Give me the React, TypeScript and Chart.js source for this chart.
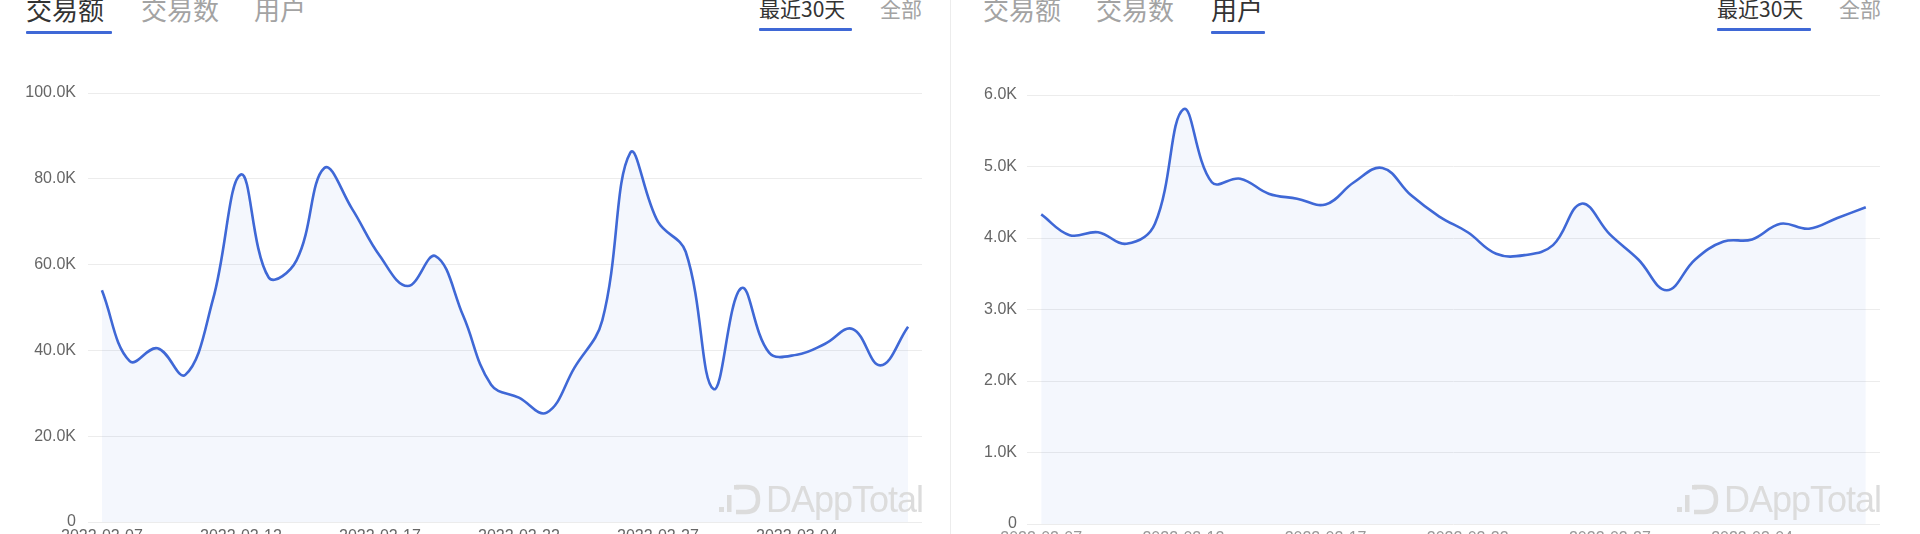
import React, { useEffect, useRef } from "react";
import { Chart, registerables } from "chart.js";

Chart.register(...registerables);

// ---------- data ----------
const dates = [
  "2022-02-07", "2022-02-08", "2022-02-09", "2022-02-10", "2022-02-11",
  "2022-02-12", "2022-02-13", "2022-02-14", "2022-02-15", "2022-02-16",
  "2022-02-17", "2022-02-18", "2022-02-19", "2022-02-20", "2022-02-21",
  "2022-02-22", "2022-02-23", "2022-02-24", "2022-02-25", "2022-02-26",
  "2022-02-27", "2022-02-28", "2022-03-01", "2022-03-02", "2022-03-03",
  "2022-03-04", "2022-03-05", "2022-03-06", "2022-03-07", "2022-03-08",
];

// 交易额 (USD)
const volumeValues = [
  54000, 37500, 40500, 34300, 52000, 81000, 57000, 61000, 82500, 73000,
  62000, 55000, 62000, 48000, 32000, 29000, 25500, 36000, 47000, 86000,
  70000, 63000, 31000, 54500, 39500, 39000, 41500, 45000, 36500, 45500,
];

// 用户
const userValues = [
  4330, 4040, 4080, 3920, 4200, 5800, 4780, 4830, 4620, 4550,
  4470, 4780, 4980, 4600, 4300, 4080, 3780, 3760, 3900, 4480,
  4050, 3700, 3270, 3700, 3950, 3980, 4200, 4130, 4280, 4430,
];

const volumeTicks = [0, 20000, 40000, 60000, 80000, 100000];
const userTicks = [0, 1000, 2000, 3000, 4000, 5000, 6000];

const tabs = ["交易额", "交易数", "用户"];
const ranges = ["最近30天", "全部"];

const LINE = "#3f68d6";
const FONT = "'Liberation Sans', Arial, Helvetica, sans-serif";
const CJK = "'Noto Sans CJK SC', 'Noto Sans', sans-serif";

type ChartProps = {
  left: number;
  top: number;
  width: number;
  height: number;
  labels: string[];
  values: number[];
  ticks: number[];
  yWidth: number;
  yPad: number;
  padTop: number;
  padRight: number;
  xHeight: number;
  xColor: string;
};

function LineChart(p: ChartProps) {
  const ref = useRef<HTMLCanvasElement | null>(null);
  useEffect(() => {
    if (!ref.current) return;
    const max = p.ticks[p.ticks.length - 1];
    const step = p.ticks[1] - p.ticks[0];
    const chart = new Chart(ref.current, {
      type: "line",
      data: {
        labels: p.labels,
        datasets: [
          {
            data: p.values,
            borderColor: LINE,
            borderWidth: 2.6,
            backgroundColor: "rgba(63,104,214,0.055)",
            fill: "origin",
            tension: 0.4,
            pointRadius: 0,
            pointHoverRadius: 0,
          },
        ],
      },
      options: {
        animation: false,
        responsive: false,
        maintainAspectRatio: false,
        events: [],
        layout: { padding: { top: p.padTop, right: p.padRight, left: 0, bottom: 0 } },
        plugins: { legend: { display: false }, tooltip: { enabled: false } },
        scales: {
          x: {
            offset: true,
            grid: { display: false, drawTicks: false },
            border: { display: false },
            ticks: {
              autoSkip: false,
              maxRotation: 0,
              minRotation: 0,
              padding: 5,
              color: p.xColor,
              font: { family: FONT, size: 16 },
              callback: (_v: any, i: number) => (i % 5 === 0 ? p.labels[i] : ""),
            },
            afterFit: (s: any) => {
              s.height = p.xHeight;
            },
          },
          y: {
            min: 0,
            max,
            grid: { color: "#ececec", lineWidth: 1, drawTicks: false },
            border: { display: false },
            ticks: {
              stepSize: step,
              padding: p.yPad,
              color: "#666",
              font: { family: FONT, size: 16 },
              callback: (v: any) => (Number(v) === 0 ? "0" : (Number(v) / 1000).toFixed(1) + "K"),
            },
            afterFit: (s: any) => {
              s.width = p.yWidth;
            },
          },
        },
      },
    });
    return () => chart.destroy();
  }, []);
  return (
    <canvas
      ref={ref}
      width={p.width}
      height={p.height}
      style={{ position: "absolute", left: p.left, top: p.top, width: p.width, height: p.height }}
    />
  );
}

function Watermark({ left, top }: { left: number; top: number }) {
  const c = "#dcdcdc";
  return (
    <div style={{ position: "absolute", left, top, height: 34, display: "flex", alignItems: "flex-end", pointerEvents: "none" }}>
      <svg width="44" height="32" viewBox="0 0 44 32" style={{ marginRight: 4, marginBottom: 3 }}>
        <rect x="1" y="24" width="5" height="5" fill={c} />
        <rect x="9" y="12" width="4.5" height="17" fill={c} />
        <path d="M18 4 H28 Q40 4 40 16.5 Q40 29 28 29 H18" fill="none" stroke={c} strokeWidth="4.5" />
        <rect x="16" y="2" width="5" height="4.5" fill={c} />
      </svg>
      <span style={{ fontFamily: FONT, fontSize: 36, letterSpacing: -1, color: c, lineHeight: "36px" }}>DAppTotal</span>
    </div>
  );
}

function Tabs({ x, active, underline }: { x: number[]; active: number; underline: [number, number] }) {
  return (
    <>
      {tabs.map((t, i) => (
        <div
          key={t}
          style={{
            position: "absolute",
            left: x[i],
            top: -10,
            fontFamily: CJK,
            fontSize: 26,
            color: i === active ? "#333" : "#a3a3a3",
            whiteSpace: "nowrap",
          }}
        >
          {t}
        </div>
      ))}
      <div style={{ position: "absolute", left: underline[0], top: 31, width: underline[1] - underline[0], height: 3, background: LINE, borderRadius: 1 }} />
    </>
  );
}

function Ranges({ x, underline }: { x: number[]; underline: [number, number] }) {
  return (
    <>
      {ranges.map((t, i) => (
        <div
          key={t}
          style={{
            position: "absolute",
            left: x[i],
            top: -7,
            fontFamily: CJK,
            fontSize: 21,
            color: i === 0 ? "#333" : "#a3a3a3",
            whiteSpace: "nowrap",
          }}
        >
          {t}
        </div>
      ))}
      <div style={{ position: "absolute", left: underline[0], top: 28, width: underline[1] - underline[0], height: 3, background: LINE, borderRadius: 1 }} />
    </>
  );
}

export default function App() {
  return (
    <div style={{ position: "fixed", left: 0, top: 0, width: 1920, height: 534, overflow: "hidden", background: "#fff" }}>
      {/* left panel */}
      <Tabs x={[26, 141, 254]} active={0} underline={[26, 112]} />
      <Ranges x={[759, 880]} underline={[759, 852]} />
      <LineChart
        left={0}
        top={60}
        width={950}
        height={500}
        labels={dates}
        values={volumeValues}
        ticks={volumeTicks}
        yWidth={88}
        yPad={12}
        padTop={33}
        padRight={28}
        xHeight={38}
        xColor="#666"
      />
      <Watermark left={718} top={484} />

      {/* divider */}
      <div style={{ position: "absolute", left: 950, top: 0, width: 1, height: 534, background: "#ececec" }} />

      {/* right panel */}
      <Tabs x={[983, 1096, 1211]} active={2} underline={[1211, 1265]} />
      <Ranges x={[1717, 1839]} underline={[1717, 1811]} />
      <LineChart
        left={951}
        top={60}
        width={969}
        height={500}
        labels={dates}
        values={userValues}
        ticks={userTicks}
        yWidth={76}
        yPad={10}
        padTop={35}
        padRight={40}
        xHeight={36}
        xColor="#999"
      />
      <Watermark left={1676} top={484} />
    </div>
  );
}
